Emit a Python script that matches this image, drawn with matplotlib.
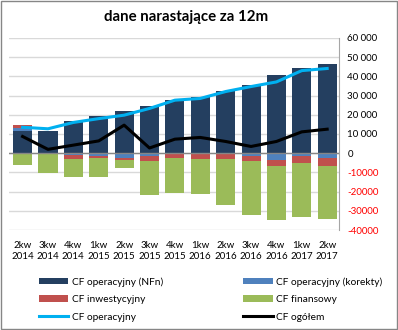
import numpy as np
import matplotlib as mpl
mpl.use('Agg')
import matplotlib.pyplot as plt
from matplotlib.patches import Rectangle
from matplotlib.ticker import FuncFormatter, MultipleLocator

mpl.rcParams['font.family'] = ['Lato', 'DejaVu Sans']

# dane
kwartaly = ['2kw\n2014', '3kw\n2014', '4kw\n2014', '1kw\n2015', '2kw\n2015', '3kw\n2015',
            '4kw\n2015', '1kw\n2016', '2kw\n2016', '3kw\n2016', '4kw\n2016', '1kw\n2017', '2kw\n2017']
cf_nfn = [11300, 11800, 16700, 19300, 22000, 24500, 27800, 29200, 32300, 35400, 40800, 44300, 46500]
cf_korekty = [1700, 0, -700, -1500, -2400, -1700, -300, -300, -300, -1600, -3300, -1600, -2600]
cf_inwest = [1600, 0, -2100, -1200, -900, -2300, -2400, -2800, -2600, -2400, -3300, -3500, -4000]
cf_finans = [-5900, -10100, -9400, -9900, -4200, -18000, -18000, -18000, -24100, -28100, -28000, -28100, -27600]
cf_oper = [13500, 12700, 16000, 18000, 19800, 23300, 27600, 28500, 32100, 34700, 37100, 43000, 44100]
cf_ogolem = [8700, 2000, 4200, 6400, 14600, 2700, 7300, 8200, 6100, 3500, 6100, 11100, 12500]

fig = plt.figure(figsize=(3.98, 3.30), dpi=100)
ax = fig.add_axes([0.023, 0.303, 0.829, 0.582])

x = np.arange(len(kwartaly))
pos = np.zeros(len(x))
neg = np.zeros(len(x))
bars = []
for vals, col, lbl in [(cf_nfn, '#243F60', 'CF operacyjny (NFn)'),
                       (cf_korekty, '#4F81BD', 'CF operacyjny (korekty)'),
                       (cf_inwest, '#C0504D', 'CF inwestycyjny'),
                       (cf_finans, '#9BBB59', 'CF finansowy')]:
    v = np.array(vals, dtype=float)
    bottom = np.where(v >= 0, pos, neg)
    b = ax.bar(x, v, 0.75, bottom=bottom, color=col, label=lbl, zorder=2)
    bars.append(b)
    pos = pos + np.clip(v, 0, None)
    neg = neg + np.clip(v, None, 0)

l1, = ax.plot(x, cf_oper, color='#00B0F0', lw=2.2, label='CF operacyjny', zorder=3)
l2, = ax.plot(x, cf_ogolem, color='black', lw=2.2, label='CF ogółem', zorder=3)

ax.set_xlim(-0.53, 12.47)
ax.set_ylim(-40000, 60000)
ax.yaxis.set_major_locator(MultipleLocator(10000))
ax.grid(axis='y', color='#D9D9D9', lw=1, zorder=0)
ax.axhline(0, color='#868686', lw=1, zorder=2.5)

def fmt(v, p):
    if v > 0:
        return '{:,.0f}'.format(v).replace(',', ' ')
    return '{:.0f}'.format(v)
ax.yaxis.set_major_formatter(FuncFormatter(fmt))
ax.yaxis.tick_right()
ax.tick_params(axis='y', length=0, labelsize=7, pad=6)
ax.tick_params(axis='x', length=0, labelsize=7, pad=8)
ax.set_xticks(x)
ax.set_xticklabels(kwartaly, linespacing=1.25)
fig.canvas.draw()
for t in ax.get_yticklabels():
    if t.get_text().startswith('-'):
        t.set_color('red')
for s in ['left', 'top', 'bottom']:
    ax.spines[s].set_visible(False)
ax.spines['right'].set_color('#A6A6A6')

ax.set_title('dane narastające za 12m', fontsize=10.8, fontweight='bold', pad=12, x=0.535)

handles = [bars[0], bars[2], l1, bars[1], bars[3], l2]
labels = [h.get_label() for h in handles]
fig.legend(handles, labels, ncol=2, loc='lower left', bbox_to_anchor=(0.075, -0.003),
           frameon=False, fontsize=7.3, handlelength=2.9, handleheight=0.6,
           columnspacing=7.9, labelspacing=0.85, handletextpad=0.35)

fig.add_artist(Rectangle((0.002, 0.003), 0.995, 0.994, transform=fig.transFigure,
                         fill=False, edgecolor='#868686', lw=1))

fig.savefig('out.png', dpi=100)
